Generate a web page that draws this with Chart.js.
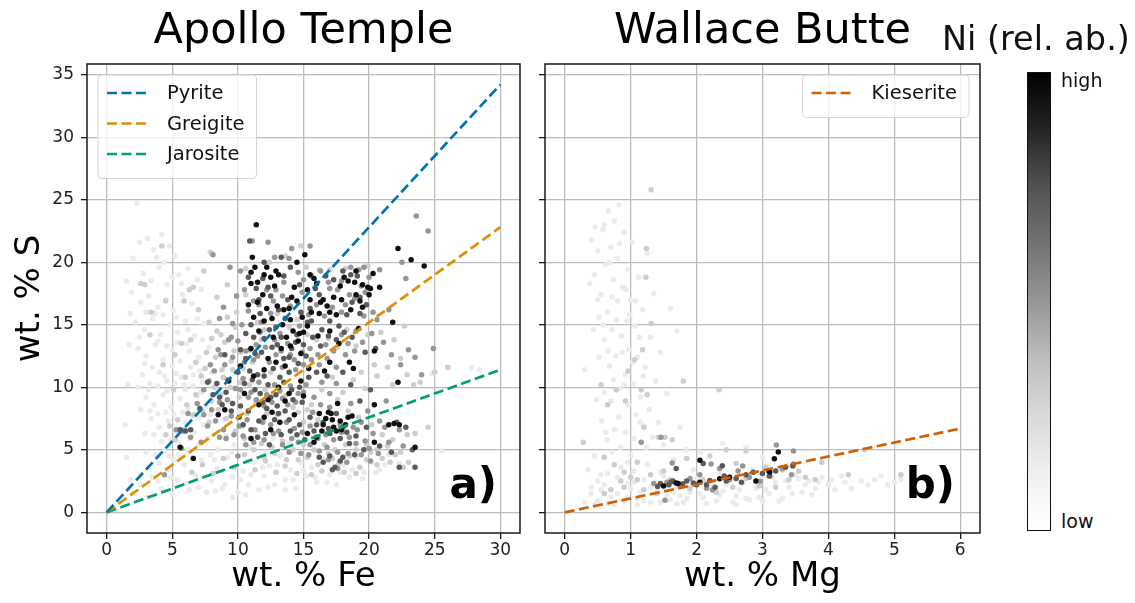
<!DOCTYPE html>
<html>
<head>
<meta charset="utf-8">
<script src="https://cdn.jsdelivr.net/npm/chart.js@4.4.1/dist/chart.umd.min.js"></script>
<style>
body { margin: 0; background: #fff; width: 1135px; height: 603px; overflow: hidden; position: relative; font-family: "DejaVu Sans", sans-serif; }
canvas { position: absolute; top: 0; }
#chartA { left: 0; }
#chartB { left: 525px; }
#cbar { position: absolute; left: 1027px; top: 72px; width: 24px; height: 459px; box-sizing: border-box; border: 1.3px solid #111;
  background: linear-gradient(to top, #fff 0%, #f0f0f0 12.5%, #d9d9d9 25%, #bdbdbd 37.5%, #969696 50%, #737373 62.5%, #525252 75%, #252525 87.5%, #000 100%); }
.lbl { position: absolute; color: #111; white-space: nowrap; }
</style>
</head>
<body>
<canvas id="chartA" width="530" height="603"></canvas>
<canvas id="chartB" width="465" height="603"></canvas>
<div class="lbl" style="left:942px;top:19px;font-size:33.5px;line-height:40px;">Ni (rel. ab.)</div>
<div id="cbar"></div>
<div class="lbl" style="left:1061px;top:68px;font-size:19px;line-height:24px;">high</div>
<div class="lbl" style="left:1061px;top:509px;font-size:19px;line-height:24px;">low</div>
<script>
// axis ticks
var sTicks = [0, 5, 10, 15, 20, 25, 30, 35];
var feTicks = [0, 5, 10, 15, 20, 25, 30];
var mgTicks = [0, 1, 2, 3, 4, 5, 6];

// reference mineral lines (end points, all start at 0,0)
var mineralNames = ['Pyrite', 'Greigite', 'Jarosite'];
var mineralColors = ['#0173B2', '#DE8F05', '#029E73'];
var mineralEnds = [[30, 34.2], [30, 22.8], [30, 11.4]];
var kieseriteEnd = [6, 6.7];
var kieseriteColor = '#D55E00';

// Ni level of each point group (0 = low, 1 = high)
var niLevels = [0.15, 0.3, 0.5, 0.72, 0.95];

// Apollo Temple: [wt% Fe, wt% S]
var apolloFaint = [
  [2.3,24.7],[2.5,21.6],[2.0,20.3],[3.1,21.9],[3.6,21.0],[4.2,22.2],[4.8,21.3],[5.2,20.5],[2.8,19.1],[3.4,18.5],[4.0,19.6],[4.6,18.2],[5.5,19.0],[6.2,19.5],
  [1.9,17.6],[2.6,16.8],[3.2,17.3],[3.9,16.4],[4.5,17.0],[5.1,16.1],[5.8,17.4],[6.5,16.7],[7.2,17.8],[2.2,15.2],[2.9,14.6],[3.5,15.5],[4.1,14.2],[4.8,15.0],
  [5.4,14.4],[6.0,15.3],[6.7,14.1],[7.4,15.1],[2.4,13.1],[3.0,12.5],[3.7,13.4],[4.3,12.2],[5.0,13.0],[5.6,12.1],[6.3,12.9],[7.0,12.4],[7.8,13.2],[2.7,11.0],
  [3.3,10.3],[4.0,11.2],[4.6,10.5],[5.3,11.1],[5.9,10.2],[6.6,11.0],[7.3,10.4],[8.0,11.2],[3.0,9.2],[3.6,8.6],[4.3,9.4],[4.9,8.4],[5.6,9.1],[6.2,8.3],
  [6.9,9.3],[7.6,8.5],[8.4,9.6],[3.4,7.5],[4.0,6.8],[4.7,7.3],[5.3,6.5],[6.0,7.2],[6.7,6.4],[7.4,7.0],[8.1,6.2],[8.9,7.4],
  [2.0,1.5],[2.6,2.2],[3.1,1.2],[3.5,2.8],[4.2,1.9],[4.6,3.4],[5.0,1.4],[5.4,2.6],[5.9,3.8],[6.3,1.8],[6.8,2.9],[7.2,4.2],[7.6,1.6],[8.0,2.5],[8.4,3.5],
  [8.8,1.9],[9.2,4.4],[9.6,2.8],[10.0,1.6],[10.4,3.3],[10.8,2.2],[11.2,4.0],[11.6,1.8],[12.0,2.9],[12.4,3.7],[12.8,2.2],[13.2,4.5],[13.6,2.6],[14.0,3.4],
  [14.4,1.9],[14.8,4.0],[15.2,2.9],[15.6,3.6],[16.0,2.4],[16.5,4.3],[17.0,3.0],[17.5,2.2],[18.0,3.8],[18.5,2.8],[19.0,4.4],[19.6,3.2],[20.2,4.0],[20.8,3.4],
  [21.5,4.6],[22.3,3.9],[25.5,4.9],[27.8,11.6],[28.4,11.4],[26.0,11.6],[24.8,11.1],
  [8.5,5.0],[9.1,6.1],[9.7,5.4],[10.3,6.8],[10.9,5.2],[11.5,6.3],[12.1,4.8],[12.7,5.9],[13.3,4.6],[13.9,5.5],[9.4,8.8],[10.1,8.0],[8.2,4.2],[7.0,5.4],
  [6.2,5.0],[5.5,4.6],[4.8,4.5],[4.0,3.9],[3.2,3.6],[2.6,3.0],[1.8,2.6],[1.5,4.4],[1.4,7.0],[1.6,10.2],[1.7,13.4],[1.8,15.9],[1.5,18.5],
  [3.8,20.4],[4.4,20.0],[5.0,18.8],[5.7,18.3],[6.9,18.6],[3.0,16.0],[3.7,15.9],[4.3,15.8],[5.3,15.6],[6.2,14.6],[6.9,15.5],[2.5,14.0],[3.9,13.7],[4.6,13.3],
  [5.4,13.6],[6.1,13.5],[7.3,13.8],[2.9,11.9],[3.5,11.6],[4.4,10.9],[5.0,11.7],[5.7,10.8],[6.4,11.6],[7.1,11.3],[2.4,10.0],[3.2,9.8],[3.9,10.1],[4.6,9.7],
  [5.2,10.3],[6.0,9.8],[6.6,10.1],[7.2,9.6],[2.6,8.2],[3.3,8.1],[3.9,7.9],[4.5,8.0],[5.1,7.8],[5.8,8.0],[6.5,7.7],[7.1,7.6],[7.9,7.8],[2.9,6.3],[3.6,6.2],
  [4.2,5.6],[4.9,5.8],[5.5,5.6],[6.3,5.9],[7.7,5.9],[3.0,4.8],[3.7,4.6],[4.4,4.9],[5.1,4.2],[6.6,4.4],[7.9,4.6],[9.5,4.8],[10.7,4.1],[11.9,3.6],[13.0,3.8],
  [14.2,2.6],[15.0,3.3],[15.9,2.8],[16.8,2.4],[17.8,3.2],[18.7,3.4],[19.5,2.7],[20.5,3.2],[21.2,3.8],[9.0,2.2],[10.2,2.6],[11.0,3.0],[12.3,2.0],[13.6,1.8],
  [8.3,1.7],[6.0,2.3],[4.9,2.8],[3.9,2.5],[7.0,2.0],[10.6,1.4],[9.6,1.2]
];
var apolloLight = [
  [2.9,18.2],[4.5,16.9],[3.3,14.2],[5.7,13.5],[6.4,13.8],[7.0,16.2],[7.8,15.2],[8.4,17.2],[8.0,20.7],[7.4,19.3],[6.6,18.0],[5.9,16.9],[4.3,11.8],[5.1,9.8],
  [6.0,10.8],[6.8,12.0],[7.5,11.5],[8.3,12.4],[9.0,13.6],[9.8,14.8],[4.5,6.2],[5.2,5.8],[5.9,6.6],[6.6,7.8],[7.3,8.1],[8.0,8.9],[8.7,9.4],[9.4,10.0],
  [10.1,9.2],[10.7,7.9],[11.4,8.8],[12.1,9.8],[6.5,3.2],[7.3,3.8],[8.1,3.1],[8.9,4.3],[9.7,3.6],[10.5,4.6],[11.3,3.4],[12.1,4.1],[12.9,3.2],[13.7,4.2],
  [14.5,3.1],[15.3,4.4],[16.1,3.8],[16.9,4.7],[17.7,3.9],[18.5,4.5],[19.3,3.6],[20.1,4.8],[21.0,4.3],[22.0,4.6],[23.0,4.0],[22.6,3.6],[23.5,6.3],[24.5,6.8],
  [26.0,11.6],[25.0,11.2],[23.4,10.2],[22.4,12.3],[21.9,13.8],[22.7,14.9],[9.5,12.1],[10.2,12.8],[8.8,11.4],[9.9,16.0],[10.6,17.4],[9.2,18.2],[8.4,14.5],
  [11.8,13.8],[12.5,11.2],[13.6,9.3],[14.2,8.4],[15.0,7.2],[15.6,8.6],[16.4,9.8],[17.2,10.8],[18.0,9.6],[18.8,10.6],[19.7,9.9],[20.6,10.9],[21.4,11.6],
  [19.9,19.7],[18.2,19.5],[17.0,19.4],[16.2,19.4],[15.2,19.6],[13.6,20.5],[14.8,21.3],[12.4,20.0],[10.6,19.5],[7.9,20.8],[2.6,18.3],[4.2,21.3],[3.4,16.0],
  [6.3,17.8],[5.2,12.6],[11.8,5.5],[12.6,5.2],[13.4,5.7],[14.2,5.0],[15.0,5.4],[15.8,5.0],[16.6,5.4],[17.4,5.0],[18.2,5.4],[19.0,5.0],[19.8,5.4],[20.6,5.0],[21.4,5.3],
  [7.8,7.2],[8.5,8.2],[9.1,7.5],[9.8,6.5],[10.5,5.9],[11.2,5.0],[12.0,4.4],[12.8,4.7],[13.6,3.7],[14.6,4.2],[15.6,3.0],[16.4,3.3],[17.2,4.3],[18.1,3.2],
  [19.0,3.1],[19.8,4.2],[20.6,3.8],[21.6,4.0],[22.4,4.8],[8.2,10.0],[8.9,10.8],[9.6,11.4],[10.2,10.4],[10.9,10.2],[7.6,12.8],[8.0,13.9],[8.7,14.2],[9.2,15.6],
  [6.8,9.4],[7.2,10.9],[6.1,8.6],[5.4,7.4],[4.8,6.9],[9.7,12.9],[10.4,11.5],[11.1,12.0],[11.5,15.2],[12.0,14.6],[13.0,15.9],[13.9,14.8],[14.5,15.4],[15.3,14.2],
  [16.0,13.8],[16.9,13.9],[17.6,13.2],[18.3,14.6],[19.0,13.3],[19.9,14.2],[20.9,14.4],[21.8,10.2],[20.4,11.8],[19.4,11.2],[12.2,7.9],[13.0,7.8],[14.6,8.0],
  [15.3,8.2],[16.1,7.4],[17.6,9.0],[18.4,8.1],[19.2,7.6],[20.2,7.0],[21.0,6.2],[21.8,5.8],[22.9,6.2],[23.9,10.4],[22.9,11.0]
];
var apolloMid = [
  [5.3,6.6],[5.8,6.5],[6.2,7.9],[6.9,8.7],[7.4,9.8],[7.8,10.5],[8.2,11.3],[8.7,12.6],[9.3,13.8],[9.6,15.1],[9.9,17.3],[9.4,19.6],[8.1,20.6],[10.5,12.0],
  [10.9,13.0],[11.5,12.5],[11.7,14.4],[12.1,13.2],[12.8,13.8],[13.3,12.9],[13.8,13.5],[14.3,12.2],[14.9,12.8],[15.5,13.1],[16.1,12.6],[16.7,13.4],[17.3,12.9],
  [17.9,14.2],[18.4,13.5],[19.0,14.5],[19.6,15.7],[18.2,16.6],[17.6,17.8],[16.9,18.4],[16.3,19.3],[15.6,18.9],[14.9,17.6],[14.0,16.5],[13.4,17.3],[12.7,16.9],
  [12.2,17.8],[11.6,16.6],[10.8,16.1],[10.3,15.0],[13.9,20.3],[14.6,19.2],[19.2,19.4],[18.9,17.1],[19.7,17.6],[20.3,16.0],[20.6,15.4],[21.5,16.2],[21.1,13.6],
  [21.7,12.6],[22.4,11.8],[23.0,13.0],[23.5,12.4],[24.9,13.1],[24.0,11.0],[22.5,20.0],[22.8,18.7],[9.2,10.6],[9.8,9.9],[10.4,10.7],[11.0,9.6],[11.6,10.4],
  [12.2,9.4],[12.8,10.2],[13.4,9.1],[14.0,10.1],[14.6,9.5],[15.2,10.2],[15.8,9.2],[16.4,10.4],[17.0,9.5],[7.7,6.9],[8.3,7.3],[8.9,6.6],[9.5,7.7],[10.1,6.9],
  [10.7,7.4],[11.3,6.6],[11.9,7.2],[12.5,7.0],[13.1,6.5],[13.7,7.2],[14.3,6.7],[14.9,6.4],[15.5,6.9],[16.1,5.9],[16.7,6.2],[17.3,5.8],[17.9,6.4],[18.5,6.0],
  [19.1,6.6],[19.7,5.7],[20.3,6.3],[21.2,6.8],[22.3,6.6],[22.6,5.3],[16.9,4.2],[17.6,3.5],[18.3,4.0],[15.4,4.6],[14.6,5.6],[13.9,4.8],[19.4,4.6],[20.1,4.1],
  [7.2,5.6],[6.4,6.0],[5.7,5.1],[4.4,3.0],[8.6,15.5],[8.9,16.4],[9.5,14.0],[11.1,21.7],[12.8,20.4],[15.5,21.3],[23.6,23.7],[24.5,22.5],[20.0,18.8],[18.6,19.6],
  [17.9,18.5],[21.3,8.9],[20.8,7.3],[19.9,8.1],[18.6,8.7],[17.5,10.3],[10.0,4.5],[10.6,5.4],
  [7.4,7.8],[8.0,8.2],[8.6,8.8],[9.2,9.0],[9.0,11.8],[9.6,12.4],[10.0,13.7],[10.6,12.9],[11.2,12.2],[11.4,13.4],[12.4,12.0],[12.9,12.6],[13.4,11.6],[14.0,12.6],
  [14.4,11.4],[15.0,11.8],[15.6,12.2],[16.2,11.8],[16.8,12.3],[17.5,11.6],[18.2,12.6],[18.9,12.9],[19.5,13.6],[20.2,14.3],[10.2,9.8],[10.8,9.2],[11.4,9.0],
  [12.0,8.5],[12.6,8.8],[13.2,9.7],[13.8,8.6],[14.4,8.8],[15.0,9.6],[15.7,8.0],[16.3,8.6],[17.0,8.4],[17.8,7.0],[18.8,6.8],[19.4,7.2],[20.0,5.1],[20.7,4.7],
  [21.5,5.6],[16.2,4.9],[16.8,5.2],[17.6,4.8],[18.4,4.7],[19.0,5.5],[15.5,5.4],[14.8,4.7],[14.1,5.9],[13.4,5.4],[12.7,6.3],[12.0,5.8],[11.2,5.6],[10.4,6.1],
  [9.7,6.2],[9.1,5.9],[8.6,6.0],[11.8,15.2],[12.5,15.9],[13.2,14.3],[14.7,14.9],[15.4,15.8],[16.0,16.6],[16.6,15.7],[17.2,16.4],[17.9,16.0],[18.5,17.4],
  [19.4,18.1],[17.0,17.9],[15.0,18.6],[13.5,18.4],[12.9,17.8],[11.2,16.9],[10.5,17.8],[10.2,19.3],[12.3,21.6],[14.1,21.1],[19.6,19.6],[20.8,19.4],[8.5,13.0],[7.9,11.8]
];
var apolloDarkGrey = [
  [10.2,13.0],[10.6,14.3],[11.2,14.0],[11.8,12.8],[12.4,14.6],[13.0,13.4],[13.5,12.3],[14.1,13.1],[14.6,11.9],[15.2,12.5],[15.7,14.0],[16.4,14.6],[17.0,15.3],
  [17.7,14.9],[18.3,15.8],[18.7,16.8],[19.3,17.2],[19.8,16.6],[16.2,17.4],[15.5,16.3],[14.8,16.0],[13.8,17.0],[13.1,16.2],[12.5,17.3],[11.9,18.7],[11.4,17.9],
  [10.8,18.8],[10.9,11.3],[11.5,11.0],[12.0,10.9],[12.7,11.5],[13.2,10.8],[13.9,11.2],[11.3,9.8],[11.9,8.8],[12.5,9.2],[13.0,8.5],[13.6,8.1],[14.2,9.0],
  [14.9,8.8],[10.2,8.5],[10.8,8.1],[9.6,8.7],[9.1,9.6],[8.4,10.3],[7.7,10.4],[10.4,7.0],[11.0,6.6],[11.6,7.3],[12.1,6.3],[12.8,7.4],[13.3,6.2],[14.0,6.5],
  [14.7,7.0],[15.1,5.8],[15.8,6.5],[16.5,7.2],[17.0,6.3],[17.5,7.9],[18.0,6.8],[18.5,5.5],[17.8,4.1],[17.2,3.4],[16.5,4.0],[17.4,3.6],[18.9,4.6],[19.6,5.0],
  [20.8,5.3],[21.7,4.8],[22.1,7.2],[22.8,6.8],[23.3,5.0],[23.5,3.6],[22.3,3.6],[19.7,12.8],[20.5,13.1],[18.0,11.2],[18.6,10.2],[19.3,8.9],[20.1,9.8],
  [16.8,10.9],[16.0,11.2],[15.4,10.8],[14.5,14.2],[15.3,15.2],[13.6,15.5],[12.9,14.8],[11.7,15.9],[17.3,18.6],[18.6,19.0],[19.1,18.9],[12.0,20.0],[13.3,20.4],
  [14.0,19.6],[10.9,21.7],[9.0,12.6],[8.6,9.2],[7.1,8.3],[6.4,6.6],[5.6,6.6],[6.0,6.5],
  [10.5,10.3],[11.1,10.6],[11.7,9.5],[12.3,10.2],[12.9,9.4],[13.5,10.4],[14.1,9.8],[14.7,10.0],[10.0,11.2],[10.6,12.3],[11.3,12.7],[12.0,13.9],[12.6,13.2],
  [13.3,14.0],[13.9,12.4],[14.4,13.6],[15.0,13.4],[15.6,15.3],[16.3,13.3],[16.9,14.1],[17.5,13.8],[18.1,14.4],[18.7,14.0],[19.3,15.9],[11.0,15.0],[11.6,17.0],
  [12.3,18.0],[13.5,18.9],[14.7,18.2],[15.9,17.9],[16.7,18.9],[18.0,19.3],[12.2,8.3],[13.1,7.9],[13.9,7.4],[14.5,6.2],[15.5,7.6],[16.0,7.0],[16.9,6.7],
  [17.8,5.9],[18.3,6.4],[19.0,6.1],[19.8,6.8],[17.0,4.5],[18.0,4.4],[16.2,4.4],[10.1,7.6],[9.5,8.1],[8.8,8.6],[8.1,9.4],[11.5,6.0],[12.4,5.4]
];
var apolloDark = [
  [11.4,23.0],[11.1,20.4],[11.0,19.2],[11.3,19.6],[12.0,19.0],[12.5,18.8],[12.9,19.3],[13.1,19.0],[11.0,18.3],[11.9,17.4],[12.2,16.3],[12.6,15.5],[11.2,15.6],
  [12.0,15.3],[13.4,15.0],[13.7,14.0],[14.2,14.5],[14.7,14.3],[15.0,14.4],[14.0,15.4],[14.3,18.0],[14.5,20.0],[15.1,20.6],[15.8,18.7],[15.3,17.8],[16.5,17.0],
  [17.3,17.2],[16.8,16.5],[17.5,15.8],[16.2,15.9],[17.0,14.5],[18.4,18.5],[18.9,18.4],[19.5,18.2],[19.9,18.0],[19.5,16.4],[20.3,19.1],[20.8,18.0],[22.2,21.1],
  [23.2,20.2],[24.2,19.7],[21.8,15.2],[20.4,12.9],[12.9,12.0],[11.0,13.1],[12.3,12.3],[13.6,11.7],[11.2,10.9],[10.2,11.7],[14.8,10.5],[12.6,8.0],[12.0,7.6],
  [13.2,7.2],[12.5,6.6],[14.3,7.8],[16.2,7.9],[16.7,7.5],[17.2,7.4],[17.6,8.7],[17.8,7.3],[18.2,7.0],[16.4,6.5],[16.0,6.0],[17.3,6.8],[18.7,7.7],[15.3,6.3],
  [20.4,8.6],[21.9,7.1],[22.3,7.0],[20.4,5.6],[23.5,5.2],[6.6,4.3],[5.6,5.2],[11.0,5.9],[10.5,9.5],[9.3,10.5],[9.0,8.2],[8.5,7.8],[13.1,10.0],[15.4,11.5],
  [16.6,11.3],[17.0,12.0],[18.5,12.0],[19.2,14.7],[18.8,11.5],[22.2,10.4],
  [10.8,16.6],[11.5,16.8],[13.0,16.5],[13.9,16.3],[14.5,16.9],[15.5,17.0],[16.0,18.3],[17.8,18.1],[19.0,17.4],[20.0,17.4],[13.3,13.1],[14.8,12.7],[16.1,14.1],
  [17.7,13.5],[12.0,11.4],[11.6,8.6],[13.6,8.9],[15.0,9.3],[17.5,6.5],[18.4,7.6],[16.9,8.0],
  [11.5,18.4],[12.2,19.6],[12.8,18.1],[13.5,16.2],[14.1,17.2],[14.9,15.6],[15.6,16.0],[16.3,16.8],[17.0,16.0],[17.9,17.0],[18.6,16.2],[19.3,16.9],[20.1,17.9],
  [19.0,19.3],[18.1,18.8],[15.5,19.0],[14.0,13.3],[14.6,13.7],[15.3,14.9],[12.7,14.0],[11.6,14.5],[13.9,9.5],[12.3,9.0],[16.5,7.0],[17.1,7.9],[17.9,6.6],
  [15.8,5.6],[21.5,7.0]
];

// Wallace Butte: [wt% Mg, wt% S]
var wallaceFaint = [
  [0.38,18.3],[0.40,21.8],[0.45,19.0],[0.50,20.9],[0.52,15.6],[0.55,17.4],[0.58,22.6],[0.60,13.8],[0.62,19.8],[0.65,16.0],[0.66,24.1],[0.68,11.7],[0.70,21.2],
  [0.72,14.6],[0.74,18.6],[0.75,23.3],[0.78,12.5],[0.80,16.9],[0.80,20.3],[0.82,24.6],[0.84,9.9],[0.86,14.1],[0.88,18.0],[0.90,22.4],[0.92,11.0],[0.94,15.3],
  [0.95,19.4],[0.97,8.6],[0.98,13.0],[1.00,17.0],[1.02,21.6],[1.04,10.3],[1.06,14.9],[1.08,7.8],[1.10,12.4],[1.12,18.8],[1.15,9.2],[1.18,16.2],[1.20,6.9],
  [1.22,11.6],[1.25,20.7],[1.28,8.2],[1.30,14.0],[1.33,6.0],[1.35,17.5],[1.38,10.5],[1.42,7.2],[1.45,12.8],[1.50,5.4],[1.55,9.5],[1.60,16.3],[1.70,14.5],
  [1.75,6.8],[0.30,11.4],[0.48,9.0],[0.56,7.3],[0.64,5.8],[0.70,8.9],[0.76,6.6],[0.85,5.2],[0.92,6.4],[1.00,4.6],[1.05,5.9],[0.35,3.4],[0.45,4.5],[0.55,3.0],
  [0.60,9.6],[0.52,12.4],[0.44,14.6],[1.65,4.2],[1.85,5.0],[2.05,4.8],[2.40,5.5],[2.75,5.2],[3.00,4.4],[3.40,3.8],
  [0.3,0.8],[0.4,1.5],[0.5,0.9],[0.6,2.2],[0.7,1.2],[0.8,2.8],[0.9,0.9],[1.0,1.9],[1.1,1.1],[1.2,2.6],[1.3,0.8],[1.4,1.7],[1.5,2.9],[1.6,1.0],[1.7,2.0],
  [1.8,0.8],[1.9,1.6],[2.0,2.7],[2.1,1.2],[2.2,2.0],[2.3,0.9],[2.4,1.7],[2.5,2.8],[2.6,1.3],[2.7,2.3],[2.8,1.0],[2.9,1.9],[3.0,2.9],[3.1,1.5],[3.2,2.4],
  [3.3,1.1],[3.4,2.0],[3.5,3.0],[3.6,1.6],[3.7,2.5],[3.8,1.9],[3.9,2.8],[4.0,2.2],[4.2,2.9],[4.35,1.9],[4.5,2.5],[4.7,2.6],[4.9,2.2],[5.1,2.6],[3.55,2.7],
  [3.75,1.4],[0.95,2.3],[1.15,1.6],[1.35,2.2],[1.55,1.4],[1.75,1.3],[2.15,0.7],[2.55,0.8],[2.95,1.2],[3.25,0.9],[0.75,0.6],[0.65,3.1],[0.85,3.6],[1.05,3.3],
  [1.25,3.8],[1.45,3.2],[1.95,3.4],[2.35,3.1],[2.85,3.4],
  [0.6,23.0],[0.68,20.0],[0.72,17.2],[0.78,15.4],[0.83,21.5],[0.87,12.8],[0.93,17.8],[0.99,15.8],[1.03,12.0],[1.07,16.9],[1.13,14.0],[1.19,10.9],[0.9,10.2],
  [0.82,7.6],[0.74,10.6],[0.66,12.9],[0.58,15.0],[0.5,17.0],[0.46,22.8],[1.14,7.2],[1.24,5.2],[0.95,4.0],[0.72,4.8],[0.62,6.4],
  [0.45,0.6],[0.55,1.8],[0.65,0.7],[0.8,1.5],[0.95,1.2],[1.05,2.4],[1.2,0.9],[1.3,2.0],[1.45,0.8],[1.55,2.1],[1.65,1.6],[1.85,1.1],[1.95,2.2],[2.05,1.5],
  [2.25,2.5],[2.35,1.4],[2.45,2.2],[2.65,1.8],[2.75,1.1],[2.9,2.4],[3.05,1.8],[3.15,2.8],[3.35,2.5],[3.45,1.5],[3.65,2.2],[3.85,2.4],[4.05,2.6],[4.1,1.8],
  [4.25,2.4],[4.6,2.2],[4.8,2.9],[5.0,2.4],[5.3,2.3],[0.5,2.5],[0.4,2.0],[1.1,0.6],[1.7,0.7],[2.6,0.6],[3.0,0.9]
];
var wallaceLight = [
  [1.31,25.8],[1.24,21.1],[1.23,18.8],[1.31,15.1],[1.18,13.0],[1.06,12.2],[0.96,11.3],[0.55,10.2],[0.65,8.6],[0.78,9.8],[0.92,8.9],[1.16,9.8],[1.25,9.4],
  [1.80,10.5],[2.34,9.8],[0.28,5.6],[0.6,4.4],[0.75,3.8],[0.9,3.2],[1.1,4.0],[1.2,6.8],[1.42,6.0],[1.52,6.0],[1.63,5.8],[1.1,2.6],[1.3,3.0],[1.5,3.3],
  [1.85,4.3],[2.2,4.5],[2.45,5.0],[2.75,4.9],[2.6,3.9],[3.05,3.6],[3.3,3.4],[3.55,3.3],[4.55,5.0],[5.1,3.0],[3.9,4.0],[4.3,3.0],[0.7,1.8],[0.9,2.0],
  [1.4,1.5],[1.6,2.6],[1.9,1.9],[2.1,2.6],[2.3,1.6],[2.55,2.0],[2.75,2.7],[2.95,2.1],[3.2,2.0],[3.4,2.6],[3.65,2.8],[3.8,2.6],[1.2,1.8],[1.0,2.8],[0.85,2.5],[0.6,1.5]
];
var wallaceMid = [
  [1.63,3.95],[1.46,6.0],[1.16,5.6],[2.63,3.3],[3.44,3.0],[2.15,1.93],[2.24,1.79],[1.52,0.96],[2.22,3.86],[3.21,5.39],[3.47,4.9],[3.47,3.86],[2.96,2.48],
  [2.5,2.6],[2.8,2.8],[1.9,2.7],[1.55,2.4],[1.35,2.3],[2.05,3.0],[2.35,3.5],[2.7,3.7],[3.1,2.9],[3.3,3.5],[1.75,2.1]
];
var wallaceDarkGrey = [
  [1.69,3.5],[2.39,3.73],[2.86,3.2],[3.09,3.3],[3.46,3.7],[1.41,2.07],[1.79,2.29],[2.15,2.2],[2.68,2.4],[3.11,2.9],[1.64,2.5],[2.45,2.5],[2.0,2.2],
  [2.28,2.0],[1.58,2.2],[1.85,2.5],[1.45,2.3],[1.62,2.45],[1.95,2.35],[2.2,2.55],[2.42,2.9],[2.6,2.7],[2.75,3.0],[3.0,3.1],[3.2,3.3],[3.35,3.6],[2.1,3.9]
];
var wallaceDark = [
  [2.05,4.17],[3.24,4.83],[3.18,4.28],[1.69,2.34],[2.05,2.4],[2.35,2.68],[3.11,3.23],[1.5,2.1],[1.72,2.3],[2.9,2.5],[2.5,2.8]
];

// matplotlib "Greys" colormap
var greyStops = [255, 240, 217, 189, 150, 115, 82, 37, 0];
function greyOf(v) {
    var p = v * 8, i = Math.min(7, Math.floor(p)), f = p - i;
    var g = Math.round(greyStops[i] + (greyStops[i + 1] - greyStops[i]) * f);
    return 'rgb(' + g + ',' + g + ',' + g + ')';
}

function pointSets(groups) {
    return groups.map(function(pts, k) {
        return {
            data: pts.map(function(p) { return { x: p[0], y: p[1] }; }),
            backgroundColor: greyOf(niLevels[k]),
            borderWidth: 0,
            pointRadius: 2.75,
            order: 10 - k
        };
    });
}

var DASH = [10, 4.5];
var LINE_W = 2.7;

function lineSet(name, color, end) {
    return {
        label: name,
        legendEntry: true,
        data: [{ x: 0, y: 0 }, { x: end[0], y: end[1] }],
        showLine: true,
        borderColor: color,
        backgroundColor: color,
        borderWidth: LINE_W,
        borderDash: DASH,
        pointRadius: 0,
        order: 0
    };
}

var FONT = 'DejaVu Sans';

// frame, legend box and panel tag
var panelDecor = {
    id: 'panelDecor',
    afterDraw: function(chart, args, opts) {
        var c = chart.ctx, a = chart.chartArea;
        c.save();
        // legend
        var items = chart.data.datasets.filter(function(d) { return d.legendEntry; });
        c.font = '19.5px "' + FONT + '"';
        var tw = 0;
        items.forEach(function(d) { tw = Math.max(tw, c.measureText(d.label).width); });
        var bw = 9 + 42 + 18 + tw + 12, rowH = 30.5, bh = 8 + rowH * items.length + 4;
        var bx = opts.legendRight ? a.right - 11 - bw : a.left + 11, by = a.top + 11;
        c.beginPath();
        c.roundRect(bx, by, bw, bh, 4);
        c.fillStyle = 'rgba(255,255,255,0.8)';
        c.fill();
        c.strokeStyle = '#d6d6d6';
        c.lineWidth = 1;
        c.stroke();
        items.forEach(function(d, i) {
            var y = by + 18 + rowH * i;
            c.beginPath();
            c.setLineDash(DASH);
            c.strokeStyle = d.borderColor;
            c.lineWidth = LINE_W;
            c.moveTo(bx + 9, y);
            c.lineTo(bx + 51, y);
            c.stroke();
            c.setLineDash([]);
            c.fillStyle = '#111';
            c.textBaseline = 'middle';
            c.textAlign = 'left';
            c.fillText(d.label, bx + 69, y + 1);
        });
        // panel tag
        c.font = 'bold 42px "' + FONT + '"';
        c.fillStyle = '#000';
        c.textAlign = 'right';
        c.textBaseline = 'middle';
        c.fillText(opts.tag, a.right - opts.tagInset, a.bottom - 46);
        // frame
        c.strokeStyle = '#1a1a1a';
        c.lineWidth = 1.5;
        c.strokeRect(a.left, a.top, a.right - a.left, a.bottom - a.top);
        c.restore();
    }
};

function makeChart(id, datasets, cfg) {
    return new Chart(document.getElementById(id), {
        type: 'scatter',
        data: { datasets: datasets },
        plugins: [panelDecor],
        options: {
            responsive: false,
            animation: false,
            devicePixelRatio: 1,
            layout: { padding: { left: 0, right: 10, top: 0, bottom: 0 } },
            plugins: {
                legend: { display: false },
                tooltip: { enabled: false },
                title: {
                    display: true,
                    text: cfg.title,
                    fullSize: false,
                    color: '#000',
                    font: { family: FONT, size: 43, weight: 'normal', lineHeight: '52px' },
                    padding: { top: 6, bottom: 6 }
                },
                panelDecor: { tag: cfg.tag, tagInset: cfg.tagInset, legendRight: cfg.legendRight }
            },
            scales: {
                x: {
                    type: 'linear',
                    min: cfg.xMin,
                    max: cfg.xMax,
                    afterBuildTicks: function(s) { s.ticks = cfg.xTicks.map(function(v) { return { value: v }; }); },
                    afterFit: function(s) { s.height = 70; },
                    grid: { color: '#bdbdbd', lineWidth: 1.3, tickColor: '#1a1a1a', tickWidth: 1.3, tickLength: 6 },
                    border: { display: false },
                    ticks: { color: '#222', padding: 1, maxRotation: 0, font: { family: FONT, size: 17 } },
                    title: { display: true, text: cfg.xTitle, color: '#000', font: { family: FONT, size: 34, lineHeight: 1.2 }, padding: { top: 0, bottom: 5 } }
                },
                y: {
                    type: 'linear',
                    min: -1.65,
                    max: 35.85,
                    afterBuildTicks: function(s) { s.ticks = sTicks.map(function(v) { return { value: v }; }); },
                    afterFit: function(s) { s.width = cfg.yWidth; },
                    grid: { color: '#bdbdbd', lineWidth: 1.3, tickColor: '#1a1a1a', tickWidth: 1.3, tickLength: 6 },
                    border: { display: false },
                    ticks: { display: cfg.yLabels, color: '#222', padding: 7, font: { family: FONT, size: 17 } },
                    title: { display: cfg.yLabels, text: 'wt. % S', color: '#000', font: { family: FONT, size: 34, lineHeight: 1.2 }, padding: { top: 10, bottom: 0 } }
                }
            }
        }
    });
}

document.addEventListener('DOMContentLoaded', function() {
    var setsA = mineralNames.map(function(n, i) { return lineSet(n, mineralColors[i], mineralEnds[i]); })
        .concat(pointSets([apolloFaint, apolloLight, apolloMid, apolloDarkGrey, apolloDark]));
    makeChart('chartA', setsA, {
        title: 'Apollo Temple', tag: 'a)', tagInset: 23, legendRight: false,
        xMin: -1.5, xMax: 31.5, xTicks: feTicks, xTitle: 'wt. % Fe', yWidth: 87, yLabels: true
    });

    var setsB = [lineSet('Kieserite', kieseriteColor, kieseriteEnd)]
        .concat(pointSets([wallaceFaint, wallaceLight, wallaceMid, wallaceDarkGrey, wallaceDark]));
    makeChart('chartB', setsB, {
        title: 'Wallace Butte', tag: 'b)', tagInset: 25, legendRight: true,
        xMin: -0.3, xMax: 6.3, xTicks: mgTicks, xTitle: 'wt. % Mg', yWidth: 20, yLabels: false
    });
});
</script>
</body>
</html>
